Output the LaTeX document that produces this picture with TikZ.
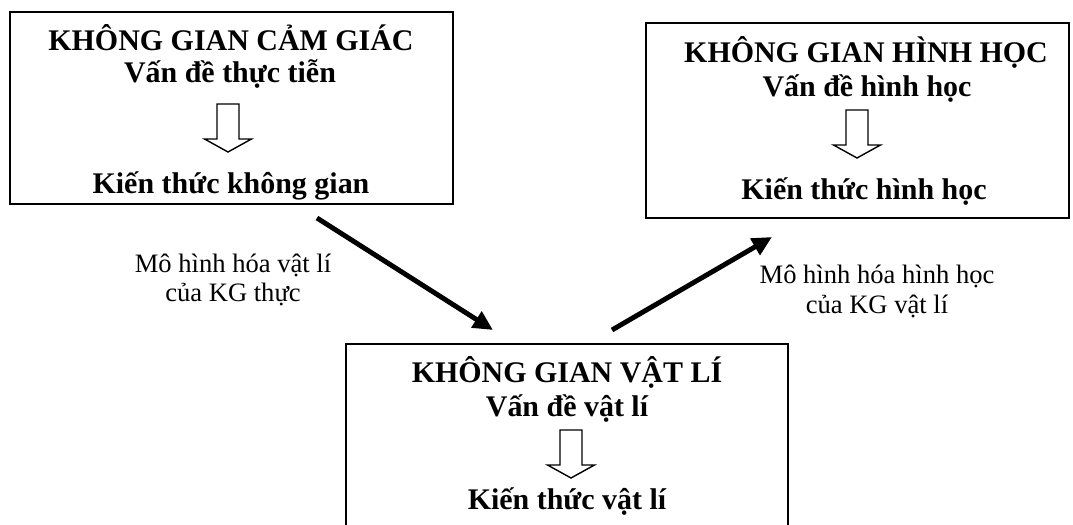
\documentclass[tikz,border=0pt]{standalone}
\usepackage{fontspec}
\setmainfont{Liberation Serif}
\usetikzlibrary{arrows.meta}

\begin{document}
\begin{tikzpicture}[
    x=0.025cm, y=-0.025cm,
    frame/.style={rectangle, draw, line width=1.3pt},
    headtext/.style={anchor=base, font=\fontsize{21.3}{24}\selectfont\bfseries},
    lbl/.style={anchor=base, align=center, font=\fontsize{18.9}{21.3}\selectfont},
    bigarrow/.style={-{Triangle[length=14pt,width=13pt]}, line width=3.5pt},
    pics/hollowdown/.style={code={
        \draw[line width=1pt] (-11,0) -- (11,0) -- (11,35) -- (23.5,35) -- (0,48)
            -- (-23.5,35) -- (-11,35) -- cycle;}}
]
\useasboundingbox (0,0) rectangle (1073,525);

% Boxes
\node[frame, minimum width=11.075cm, minimum height=4.8cm] (cam) at (231.5,108) {};
\node[frame, minimum width=10.575cm, minimum height=4.875cm] (hinh) at (857.5,120.5) {};
\node[frame, minimum width=11.05cm, minimum height=5.4cm] (vatli) at (567,452) {};

% Cam giac
\node[headtext] (camt) at (231,51) {KHÔNG GIAN CẢM GIÁC};
\node[headtext] (cams) at (230,83) {Vấn đề thực tiễn};
\pic at (228,104) {hollowdown};
\node[headtext] (camk) at (231,194) {Kiến thức không gian};

% Hinh hoc
\node[headtext] (hinht) at (866,63) {KHÔNG GIAN HÌNH HỌC};
\node[headtext] (hinhs) at (867,97) {Vấn đề hình học};
\pic at (857,110) {hollowdown};
\node[headtext] (hinhk) at (864,200) {Kiến thức hình học};

% Vat li
\node[headtext] (vatlit) at (567,382) {KHÔNG GIAN VẬT LÍ};
\node[headtext] (vatlis) at (567,416) {Vấn đề vật lí};
\pic at (571,430) {hollowdown};
\node[headtext] (vatlik) at (567,509) {Kiến thức vật lí};

% Arrows
\coordinate (a1) at (317,218);
\coordinate (b1) at (493,330);
\coordinate (a2) at (612,330);
\coordinate (b2) at (772,237);
\draw[bigarrow] (a1) -- (b1);
\draw[bigarrow] (a2) -- (b2);

% Labels
\node[lbl] (m1) at (233,302) {Mô hình hóa vật lí\\của KG thực};
\node[lbl] (m2) at (877,313) {Mô hình hóa hình học\\của KG vật lí};

\end{tikzpicture}
\end{document}
